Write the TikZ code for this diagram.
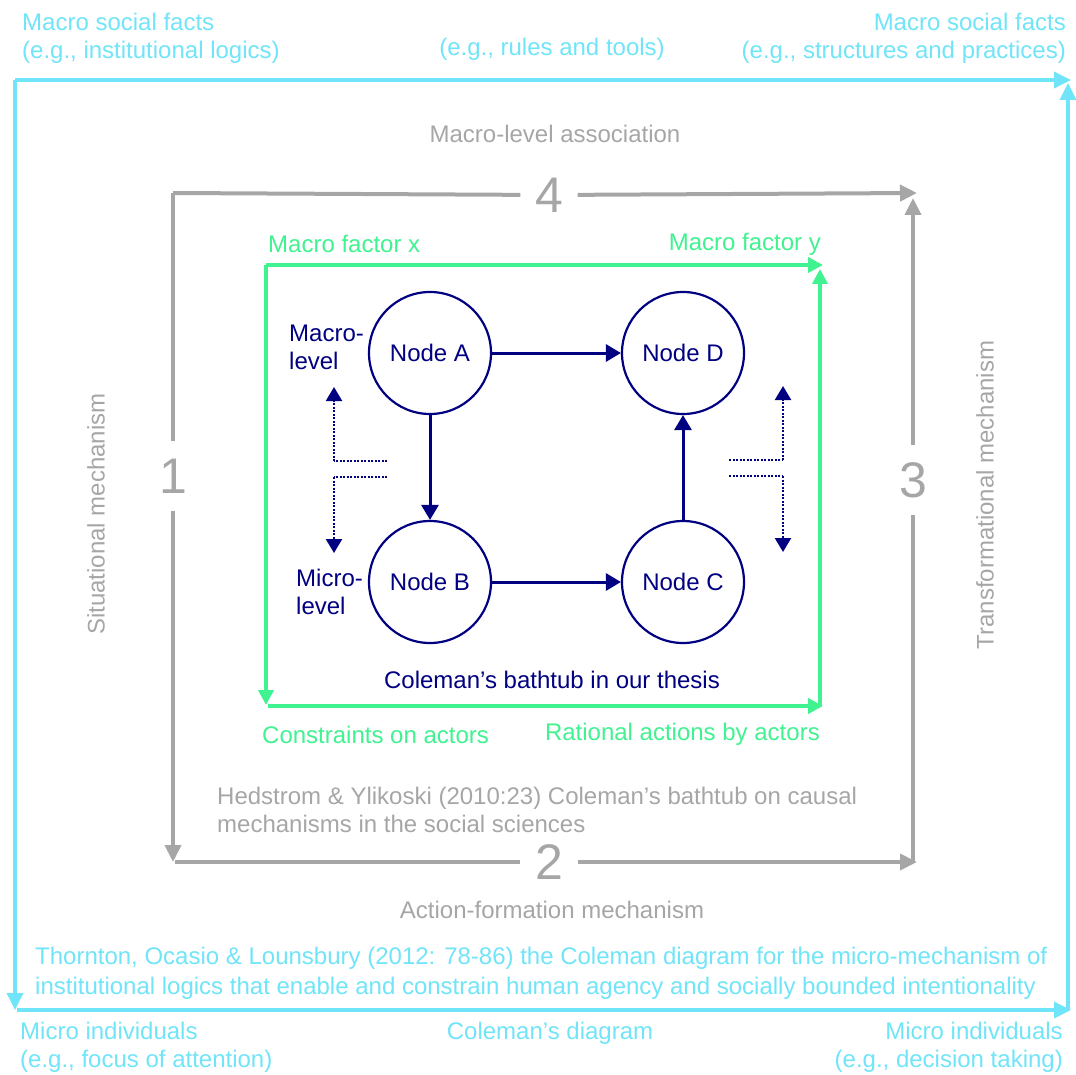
\documentclass[tikz,border=0pt]{standalone}
\usepackage{fontspec}
\setmainfont{Liberation Sans}
\usetikzlibrary{arrows.meta}
\definecolor{cyanline}{RGB}{112,228,248}
\definecolor{grayline}{RGB}{166,166,166}
\definecolor{greenline}{RGB}{64,242,144}
\definecolor{navyline}{RGB}{0,0,128}
\begin{document}
\begin{tikzpicture}[x=1pt,y=-1pt,
  every node/.style={font=\fontsize{24}{28}\selectfont, inner sep=0pt},
  cyantext/.style={text=cyanline},
  graytext/.style={text=grayline},
  greentext/.style={text=greenline},
  navytext/.style={text=navyline},
  cyanarrow/.style={draw=cyanline, line width=3.5pt, -{Triangle[length=17pt,width=16pt]}},
  grayarrow/.style={draw=grayline, line width=4pt, -{Triangle[length=17pt,width=16pt]}},
  grayline/.style={draw=grayline, line width=4pt},
  greenarrow/.style={draw=greenline, line width=4.5pt, -{Triangle[length=15pt,width=15pt]}},
  navyarrow/.style={draw=navyline, line width=3pt, -{Triangle[length=15pt,width=17pt]}},
  dotarrow/.style={draw=navyline, line width=2.2pt, dash pattern=on 2pt off 1.5pt, -{Triangle[length=14pt,width=16pt]}},
  dotline/.style={draw=navyline, line width=2.2pt, dash pattern=on 2pt off 1.5pt},
  bathnode/.style={circle, draw=navyline, line width=2.2pt, minimum size=122pt, text=navyline},
  numnode/.style={rectangle, minimum width=57pt, minimum height=69pt, text=grayline, font=\fontsize{50}{50}\selectfont}
]
\useasboundingbox (0,0) rectangle (1076,1075);

% ---------------- outer frame: Coleman's diagram ----------------
\coordinate (cTL) at (15,80);
\coordinate (cTopEnd) at (1071,80);
\coordinate (cLeftEnd) at (15,1010);
\coordinate (cBotStart) at (17,1010);
\coordinate (cBotEnd) at (1071,1010);
\coordinate (cRightStart) at (1068,1010);
\coordinate (cRightEnd) at (1068,83);
\draw[cyanarrow] (cTL) -- (cTopEnd);
\draw[cyanarrow] (cTL) -- (cLeftEnd);
\draw[cyanarrow] (cBotStart) -- (cBotEnd);
\draw[cyanarrow] (cRightStart) -- (cRightEnd);

\node[cyantext, align=left, anchor=west] (macroL) at (22,38) {Macro social facts\\(e.g., institutional logics)};
\node[cyantext] (rules) at (552,49) {(e.g., rules and tools)};
\node[cyantext, align=right, anchor=east] (macroR) at (1066,38) {Macro social facts\\(e.g., structures and practices)};
\node[cyantext, align=left, anchor=west, font=\fontsize{24}{30}\selectfont] (thornton) at (35,973) {Thornton, Ocasio \& Lounsbury (2012: 78-86) the Coleman diagram for the micro-mechanism of\\institutional logics that enable and constrain human agency and socially bounded intentionality};
\node[cyantext, align=left, anchor=west] (microL) at (20,1047) {Micro individuals\\(e.g., focus of attention)};
\node[cyantext] (colemand) at (550,1033) {Coleman’s diagram};
\node[cyantext, align=right, anchor=east] (microR) at (1063,1047) {Micro individuals\\(e.g., decision taking)};

% ---------------- middle frame: Hedstrom & Ylikoski ----------------
\coordinate (gTL) at (173,193);
\coordinate (gTopEnd) at (917,193);
\coordinate (gLeftEnd) at (173,862);
\coordinate (gBotStart) at (175,862);
\coordinate (gBotEnd) at (917,862);
\coordinate (gRightStart) at (913,862);
\coordinate (gRightEnd) at (913,198);
\node[numnode] (n4) at (549,195) {4};
\node[numnode] (n1) at (173,476) {1};
\node[numnode] (n2) at (549,862) {2};
\node[numnode] (n3) at (913,480) {3};
\draw[grayline] (gTL) -- (n4);
\draw[grayarrow] (n4) -- (gTopEnd);
\draw[grayline] (gTL) -- (n1);
\draw[grayarrow] (n1) -- (gLeftEnd);
\draw[grayline] (gBotStart) -- (n2);
\draw[grayarrow] (n2) -- (gBotEnd);
\draw[grayline] (gRightStart) -- (n3);
\draw[grayarrow] (n3) -- (gRightEnd);

\node[graytext] (macroassoc) at (555,134) {Macro-level association};
\node[graytext] (actionform) at (552,910) {Action-formation mechanism};
\node[graytext, rotate=90] (situational) at (96,514) {Situational mechanism};
\node[graytext, rotate=90] (transform) at (985,495) {Transformational mechanism};
\node[graytext, align=left, anchor=west] (hedstrom) at (217,810) {Hedstrom \& Ylikoski (2010:23) Coleman’s bathtub on causal\\mechanisms in the social sciences};

% ---------------- inner frame: macro factors and actors ----------------
\coordinate (eTL) at (266,265);
\coordinate (eTopEnd) at (823,265);
\coordinate (eLeftEnd) at (266,705);
\coordinate (eBotStart) at (268,706);
\coordinate (eBotEnd) at (823,706);
\coordinate (eRightStart) at (820,706);
\coordinate (eRightEnd) at (820,269);
\draw[greenarrow] (eTL) -- (eTopEnd);
\draw[greenarrow] (eTL) -- (eLeftEnd);
\draw[greenarrow] (eBotStart) -- (eBotEnd);
\draw[greenarrow] (eRightStart) -- (eRightEnd);

\node[greentext, anchor=west] (mfx) at (268,244) {Macro factor x};
\node[greentext, anchor=east] (mfy) at (821,244) {Macro factor y};
\node[greentext, anchor=west] (constraints) at (262,735) {Constraints on actors};
\node[greentext, anchor=east] (rational) at (820,734) {Rational actions by actors};

% ---------------- Coleman's bathtub ----------------
\node[bathnode] (A) at (430,353) {Node A};
\node[bathnode] (D) at (683,353) {Node D};
\node[bathnode] (B) at (430,582) {Node B};
\node[bathnode] (C) at (683,582) {Node C};
\draw[navyarrow] (A) -- (D);
\draw[navyarrow] (A) -- (B);
\draw[navyarrow] (B) -- (C);
\draw[navyarrow] (C) -- (D);

\node[navytext, align=left, anchor=west] (macrolevel) at (289,347) {Macro-\\level};
\node[navytext, align=left, anchor=west] (microlevel) at (296,592) {Micro-\\level};
\node[navytext] (bathtub) at (552,680) {Coleman’s bathtub in our thesis};

% level switches, left
\coordinate (lu0) at (387,461);
\coordinate (lu1) at (334,461);
\coordinate (lu2) at (334,387);
\coordinate (ld0) at (387,477);
\coordinate (ld1) at (334,477);
\coordinate (ld2) at (334,553);
\draw[dotline] (lu0) -- (lu1);
\draw[dotarrow] (lu1) -- (lu2);
\draw[dotline] (ld0) -- (ld1);
\draw[dotarrow] (ld1) -- (ld2);

% level switches, right
\coordinate (ru0) at (729,460);
\coordinate (ru1) at (783,460);
\coordinate (ru2) at (783,386);
\coordinate (rd0) at (729,476);
\coordinate (rd1) at (783,476);
\coordinate (rd2) at (783,552);
\draw[dotline] (ru0) -- (ru1);
\draw[dotarrow] (ru1) -- (ru2);
\draw[dotline] (rd0) -- (rd1);
\draw[dotarrow] (rd1) -- (rd2);
\end{tikzpicture}
\end{document}
